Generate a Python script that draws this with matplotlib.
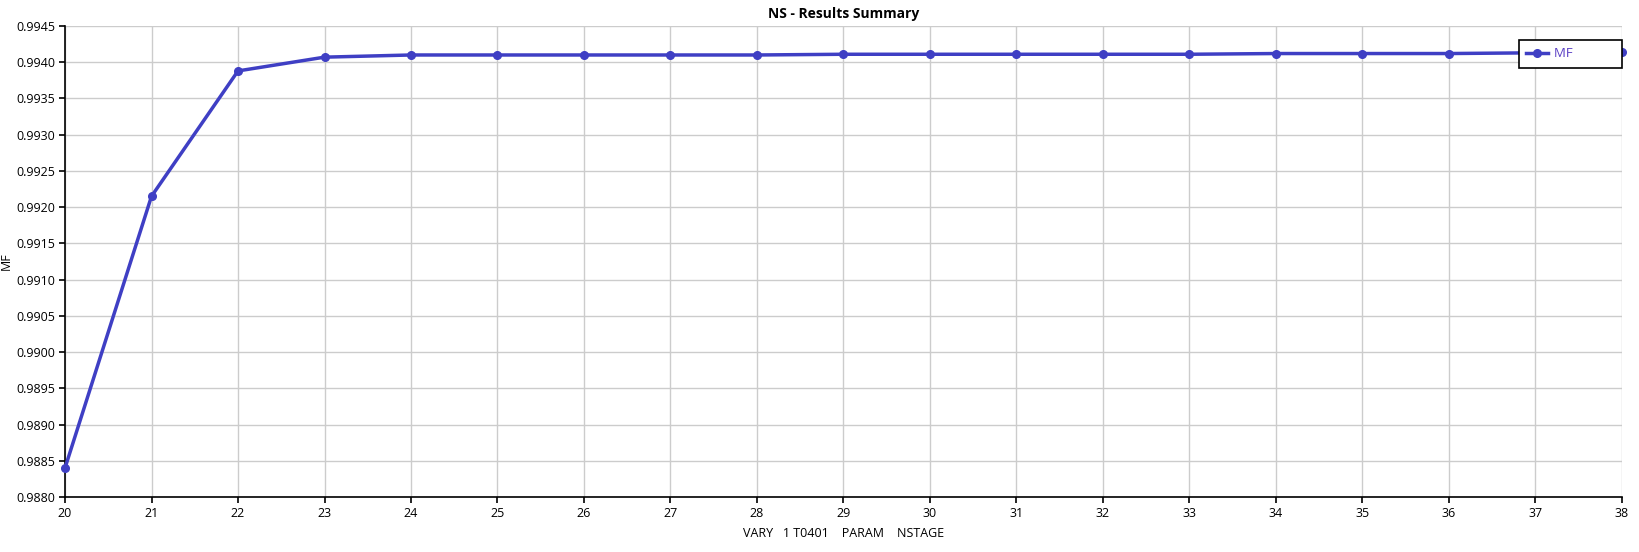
import matplotlib.pyplot as plt
import numpy as np

plt.rcParams['font.family'] = ['Open Sans', 'DejaVu Sans']

# NSTAGE values and resulting MF
nstage = [20, 21, 22, 23, 24, 25, 26, 27, 28, 29, 30, 31, 32, 33, 34, 35, 36, 37, 38]
mf = [0.98840, 0.99215, 0.99388, 0.99407, 0.99410, 0.99410, 0.99410, 0.99410,
      0.99410, 0.99411, 0.99411, 0.99411, 0.99411, 0.99411, 0.99412, 0.99412,
      0.99412, 0.99413, 0.99414]

fig = plt.figure(figsize=(16.4, 5.52), dpi=100)
ax = fig.add_axes([65 / 1640, 1 - 497 / 552, (1622 - 65) / 1640, (497 - 26) / 552])

ax.plot(nstage, mf, color='#3f3fc4', linewidth=2.5, marker='o', markersize=5.5,
        label='MF', clip_on=False, zorder=3)

ax.set_xlim(20, 38)
ax.set_ylim(0.9880, 0.9945)
ax.set_xticks(np.arange(20, 39, 1))
ax.set_yticks(np.arange(0.9880, 0.99451, 0.0005))
ax.yaxis.set_major_formatter(plt.FormatStrFormatter('%.4f'))
ax.grid(True, color='#cccccc', linewidth=1)
ax.set_axisbelow(True)

for s in ['top', 'right']:
    ax.spines[s].set_visible(False)
for s in ['left', 'bottom']:
    ax.spines[s].set_linewidth(1.2)
ax.tick_params(labelsize=9, length=4, width=1.2, direction='out', pad=3)

ax.set_title('NS - Results Summary', fontsize=10, fontweight='bold', pad=6)
ax.set_xlabel('VARY   1 T0401    PARAM    NSTAGE', fontsize=9, labelpad=5)
ax.set_ylabel('MF', fontsize=9)
ax.yaxis.set_label_coords((13 - 65) / 1557, 0.5)

leg = ax.legend(loc='upper right', bbox_to_anchor=(1.0, 0.97), fontsize=9.5,
                frameon=True, fancybox=False, edgecolor='black', framealpha=1,
                borderpad=0.55, handlelength=1.6, borderaxespad=0,
                handletextpad=0.5)
leg.get_frame().set_linewidth(1.2)
for t in leg.get_texts():
    t.set_color('#5a3fc4')
    t.set_text('MF            ')

fig.savefig('out.png', dpi=100)
